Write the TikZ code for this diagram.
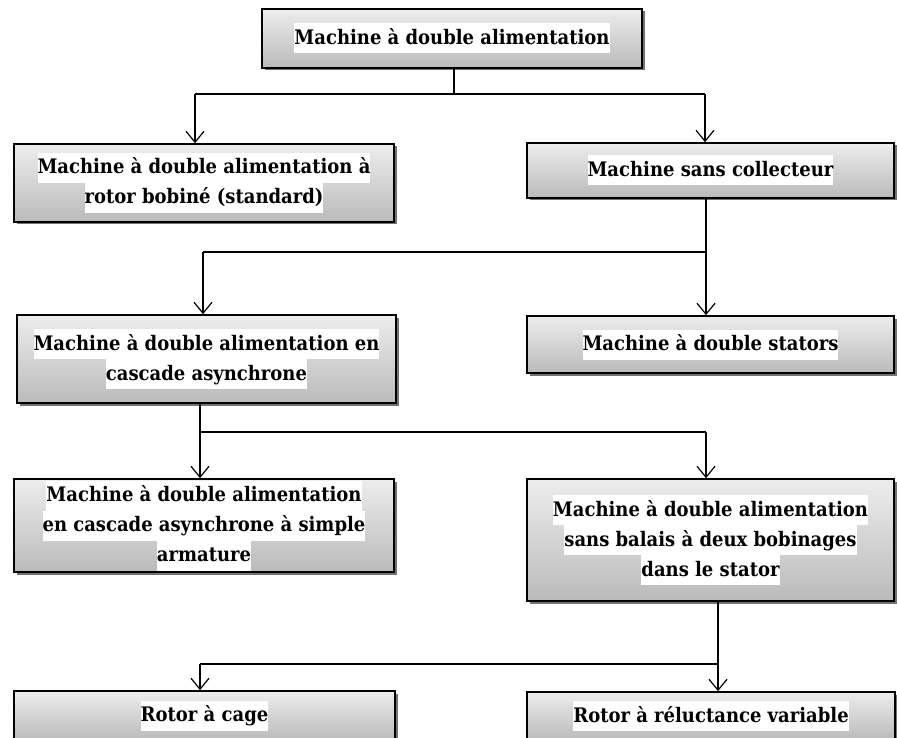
\documentclass[tikz,border=0pt]{standalone}
\usepackage{fontspec}
\setmainfont{DejaVu Serif Condensed}
\usepackage{tikz}
\usetikzlibrary{arrows.meta,shadows}

\newcommand{\hl}[1]{{\setlength{\fboxsep}{0pt}\colorbox{white}{\strut #1}}}

\begin{document}
\begin{tikzpicture}[x=1pt,y=-1pt,
    boite/.style={rectangle,draw=black,line width=1.6pt,top color=black!7,bottom color=black!27,
      drop shadow={shadow xshift=2.5pt,shadow yshift=-2.5pt,fill=black!55,opacity=1},
      align=center,inner sep=0pt,font=\fontsize{20}{30}\selectfont\bfseries},
    fleche/.style={line width=1.2pt,-{Straight Barb[length=11pt,width=18pt,line width=1.2pt]}},
    trait/.style={line width=1.2pt}]
  \useasboundingbox (0,0) rectangle (897,738);
  \clip (0,0) rectangle (897,738);
  \node[boite,minimum width=380pt,minimum height=59pt] (mda) at (452,38.5) {\hl{Machine à double alimentation}};
  \node[boite,minimum width=380pt,minimum height=78pt] (rotbob) at (204,183) {\hl{Machine à double alimentation à}\\\hl{rotor bobiné (standard)}};
  \node[boite,minimum width=367pt,minimum height=55pt] (sanscol) at (710.5,170.5) {\hl{Machine sans collecteur}};
  \node[boite,minimum width=379pt,minimum height=88pt] (cascade) at (206.5,359) {\hl{Machine à double alimentation en}\\\hl{cascade asynchrone}};
  \node[boite,minimum width=367pt,minimum height=57pt] (doubstat) at (710.5,344.5) {\hl{Machine à double stators}};
  \node[boite,minimum width=380pt,minimum height=93pt] (simparm) at (204,525.5) {\hl{Machine à double alimentation}\\\hl{en cascade asynchrone à simple}\\\hl{armature}};
  \node[boite,minimum width=367pt,minimum height=122pt] (sansbal) at (710.5,540) {\hl{Machine à double alimentation}\\\hl{sans balais à deux bobinages}\\\hl{dans le stator}};
  \node[boite,minimum width=381pt,minimum height=49pt] (cage) at (204.5,715.5) {\hl{Rotor à cage}};
  \node[boite,minimum width=368pt,minimum height=48pt] (reluct) at (711,716) {\hl{Rotor à réluctance variable}};

  % niveau 1
  \coordinate (j1) at (454,94);
  \coordinate (g1) at (195,94);
  \coordinate (d1) at (705,94);
  \draw[trait] (mda.south -| j1) -- (j1);
  \draw[trait] (g1) -- (d1);
  \draw[fleche] (g1) -- (g1 |- rotbob.north);
  \draw[fleche] (d1) -- (d1 |- sanscol.north);

  % niveau 2
  \coordinate (j2) at (706,252);
  \coordinate (g2) at (203,252);
  \draw[fleche] (sanscol.south -| j2) -- (j2 |- doubstat.north);
  \draw[trait] (j2) -- (g2);
  \draw[fleche] (g2) -- (g2 |- cascade.north);

  % niveau 3
  \coordinate (g3) at (200,432);
  \coordinate (d3) at (706,432);
  \draw[fleche] (cascade.south -| g3) -- (g3 |- simparm.north);
  \draw[trait] (g3) -- (d3);
  \draw[fleche] (d3) -- (d3 |- sansbal.north);

  % niveau 4
  \coordinate (j4) at (718,664);
  \coordinate (g4) at (200,664);
  \draw[fleche] (sansbal.south -| j4) -- (j4 |- reluct.north);
  \draw[trait] (j4) -- (g4);
  \draw[fleche] (g4) -- (g4 |- cage.north);
\end{tikzpicture}
\end{document}
